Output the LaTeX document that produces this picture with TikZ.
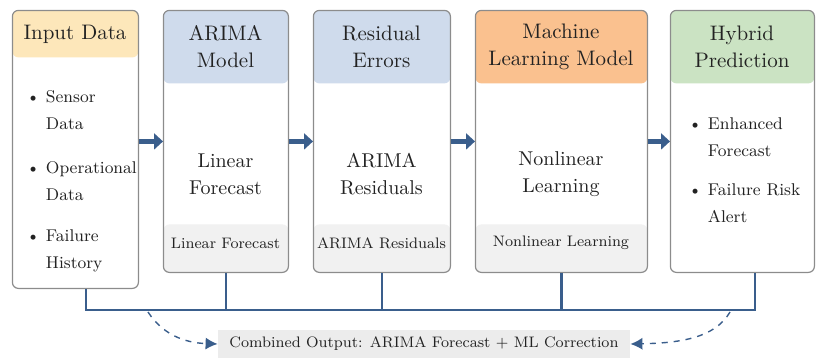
\documentclass[tikz,border=0pt]{standalone}
\usetikzlibrary{arrows.meta, positioning, calc}

\definecolor{hdrinput}{HTML}{FDE7BA}
\definecolor{hdrblue}{HTML}{CFDBEC}
\definecolor{hdrorange}{HTML}{FAC18F}
\definecolor{hdrgreen}{HTML}{CBE3C3}
\definecolor{footgray}{HTML}{F1F1F1}
\definecolor{outgray}{HTML}{ECECEC}
\definecolor{boxline}{HTML}{8C8C8C}
\definecolor{flowblue}{HTML}{3A5E8C}
\definecolor{txtdark}{HTML}{222222}

\newcommand{\bulitem}[1]{\textbullet\hspace{3pt}\begin{tabular}[t]{@{}l@{}}#1\end{tabular}}

\tikzset{
  stage/.style={fill=white, rounded corners=3pt, anchor=north west, inner sep=0pt,
    postaction={draw=boxline, line width=0.6pt}},
  paint/.style n args={3}{path picture={
      \fill[#1] (path picture bounding box.north west) rectangle ([yshift=-#2]path picture bounding box.north east);
      \fill[footgray] (path picture bounding box.south west) rectangle ([yshift=#3]path picture bounding box.south east);}},
  head/.style={align=center, text=txtdark, font=\fontsize{10.5}{13.5}\selectfont},
  body/.style={align=center, text=txtdark, font=\fontsize{10}{13.5}\selectfont},
  item/.style={anchor=base west, text=txtdark, inner sep=0pt, font=\fontsize{8.5}{13.5}\selectfont},
  foot/.style={text=txtdark, font=\fontsize{7.6}{10}\selectfont},
  flow/.style={draw=flowblue, line width=2.4pt, -{Triangle[length=4.5pt,width=8pt]}},
  bus/.style={draw=flowblue, line width=1.4pt},
  link/.style={draw=flowblue, line width=0.7pt, dashed, -{Latex[length=6pt,width=6pt]}}
}

\begin{document}
\begin{tikzpicture}[x=0.5pt, y=-0.5pt]
\useasboundingbox (0,0) rectangle (816,360);

% stages
\node[stage, minimum width=63pt, minimum height=139pt, paint={hdrinput}{23.5pt}{0pt}] (input) at (12,10) {};
\node[stage, minimum width=62.5pt, minimum height=131pt, paint={hdrblue}{36.5pt}{24pt}] (arima) at (163,10) {};
\node[stage, minimum width=68.5pt, minimum height=131pt, paint={hdrblue}{36.5pt}{24pt}] (resid) at (313,10) {};
\node[stage, minimum width=86pt, minimum height=131pt, paint={hdrorange}{36.5pt}{24pt}] (mlmodel) at (475,10) {};
\node[stage, minimum width=72pt, minimum height=131pt, paint={hdrgreen}{36.5pt}{0pt}] (hybrid) at (670,10) {};

% headers
\node[head] (hInput) at (75,34) {Input Data};
\node[head] (hArima) at (225.5,47) {ARIMA\\Model};
\node[head] (hResid) at (381.5,47) {Residual\\Errors};
\node[head] (hML) at (561,47) {Machine\\Learning Model};
\node[head] (hHybrid) at (742,47) {Hybrid\\Prediction};

% bodies
\node[body] (bArima) at (225.5,174) {Linear\\Forecast};
\node[body] (bResid) at (381.5,174) {ARIMA\\Residuals};
\node[body] (bML) at (561,174) {Nonlinear\\Learning};

\node[foot] (fArima) at (225.5,243) {Linear Forecast};
\node[foot] (fResid) at (381.5,243) {ARIMA Residuals};
\node[foot] (fML) at (561,243) {Nonlinear Learning};

% bullet lists
\node[item] (iSensor) at (26,102) {\bulitem{Sensor\\Data}};
\node[item] (iOper) at (26,173) {\bulitem{Operational\\Data}};
\node[item] (iFail) at (26,241) {\bulitem{Failure\\History}};
\node[item] (iEnh) at (688,129) {\bulitem{Enhanced\\Forecast}};
\node[item] (iRisk) at (688,195) {\bulitem{Failure Risk\\Alert}};

% flow
\draw[flow] (input.east |- arima.west) -- (arima.west);
\draw[flow] (arima.east) -- (resid.west);
\draw[flow] (resid.east) -- (mlmodel.west);
\draw[flow] (mlmodel.east) -- (hybrid.west);

% bus to output
\coordinate (busL) at (86,310);
\coordinate (busR) at (755,310);
\draw[bus] (input.south -| busL) -- (busL) -- (busR) -- (hybrid.south -| busR);
\foreach \s in {arima,resid,mlmodel}
  \draw[bus] (\s.south) -- (\s.south |- busL);

\node[fill=outgray, minimum width=206pt, minimum height=14pt, inner sep=0pt, text=txtdark, font=\fontsize{7.6}{10}\selectfont] (combined) at (424,344) {Combined Output: ARIMA Forecast + ML Correction};

\coordinate (dashL) at (148,312);
\coordinate (dashR) at (730,312);
\draw[link] (dashL) .. controls (165,338) and (190,343) .. (combined.west);
\draw[link] (dashR) .. controls (715,338) and (680,343) .. (combined.east);
\end{tikzpicture}
\end{document}
